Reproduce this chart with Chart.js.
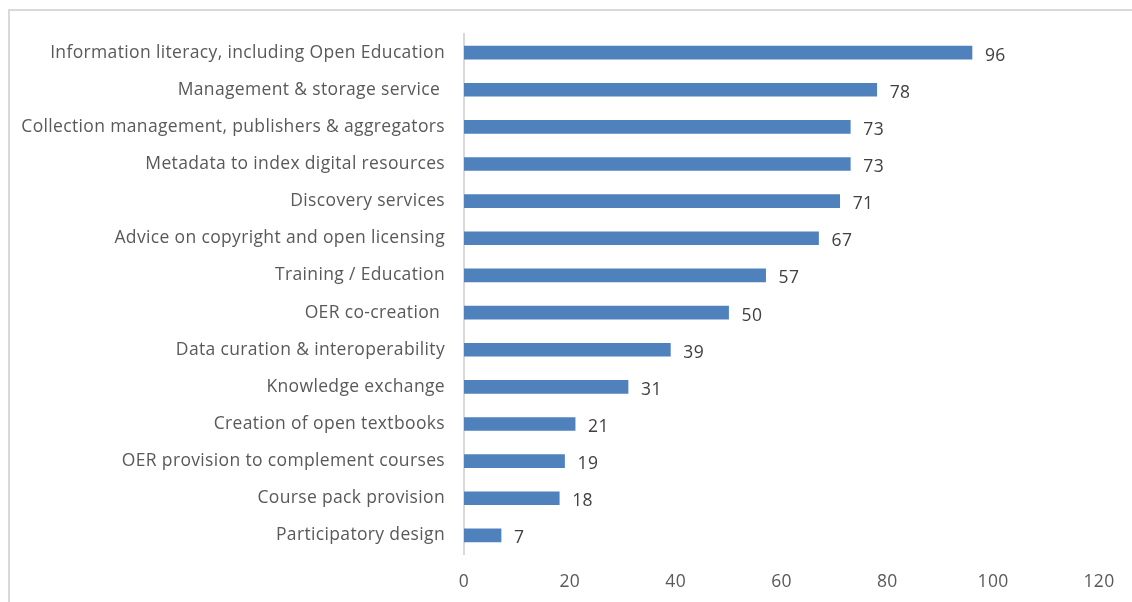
<!DOCTYPE html>
<html>
<head>
<meta charset="utf-8">
<title>Library services</title>
<script src="https://cdn.jsdelivr.net/npm/chart.js@4.4.1/dist/chart.umd.min.js"></script>
<style>
    html, body { margin: 0; padding: 0; background: #fff; overflow: hidden; }
    .frame {
        position: absolute; left: 8px; top: 9px; width: 1200px; height: 700px;
        border-top: 2px solid #d9d9d9; border-left: 2px solid #d9d9d9;
    }
    #services-chart { position: absolute; left: 0; top: 0; }
</style>
</head>
<body>
<div class="frame"></div>
<canvas id="services-chart" width="1132" height="602"></canvas>
<script>
const categories = [
    'Information literacy, including Open Education',
    'Management & storage service ',
    'Collection management, publishers & aggregators',
    'Metadata to index digital resources',
    'Discovery services',
    'Advice on copyright and open licensing',
    'Training / Education',
    'OER co-creation ',
    'Data curation & interoperability',
    'Knowledge exchange',
    'Creation of open textbooks',
    'OER provision to complement courses',
    'Course pack provision',
    'Participatory design'
];
const counts = [96, 78, 73, 73, 71, 67, 57, 50, 39, 31, 21, 19, 18, 7];
const xTicks = [0, 20, 40, 60, 80, 100, 120];

const FONT = '"Open Sans", Lato, sans-serif';

// slightly looser tracking for all canvas text
const tracking = {
    id: 'tracking',
    beforeDraw(chart) { chart.ctx.letterSpacing = '0.35px'; }
};

// value printed just past the end of each bar
const valueLabels = {
    id: 'valueLabels',
    afterDatasetsDraw(chart) {
        const ctx = chart.ctx;
        const meta = chart.getDatasetMeta(0);
        ctx.save();
        ctx.font = '17.5px ' + FONT;
        ctx.fillStyle = '#404040';
        ctx.textAlign = 'left';
        ctx.textBaseline = 'middle';
        meta.data.forEach((bar, i) => {
            ctx.fillText(String(counts[i]), bar.x + 13, bar.y + 3);
        });
        ctx.restore();
    }
};

new Chart(document.getElementById('services-chart'), {
    type: 'bar',
    data: {
        labels: categories,
        datasets: [{
            data: counts,
            backgroundColor: '#4f81bd',
            barThickness: 13
        }]
    },
    options: {
        indexAxis: 'y',
        responsive: false,
        animation: false,
        layout: { padding: { top: 34, right: 32, bottom: 0, left: 0 } },
        plugins: { legend: { display: false }, tooltip: { enabled: false } },
        scales: {
            y: {
                grid: { display: false, drawTicks: false },
                border: { display: true, color: '#d9d9d9', width: 2 },
                ticks: { color: '#595959', font: { family: FONT, size: 17.5 }, padding: 19 },
                afterFit(s) { s.width = 464; }
            },
            x: {
                min: 0,
                max: 120,
                afterBuildTicks(s) { s.ticks = xTicks.map(v => ({ value: v })); },
                grid: { display: false, drawTicks: false },
                border: { display: false },
                ticks: { color: '#595959', font: { family: FONT, size: 17.5 }, padding: 18 },
                afterFit(s) { s.height = 48; }
            }
        }
    },
    plugins: [tracking, valueLabels]
});
</script>
</body>
</html>
